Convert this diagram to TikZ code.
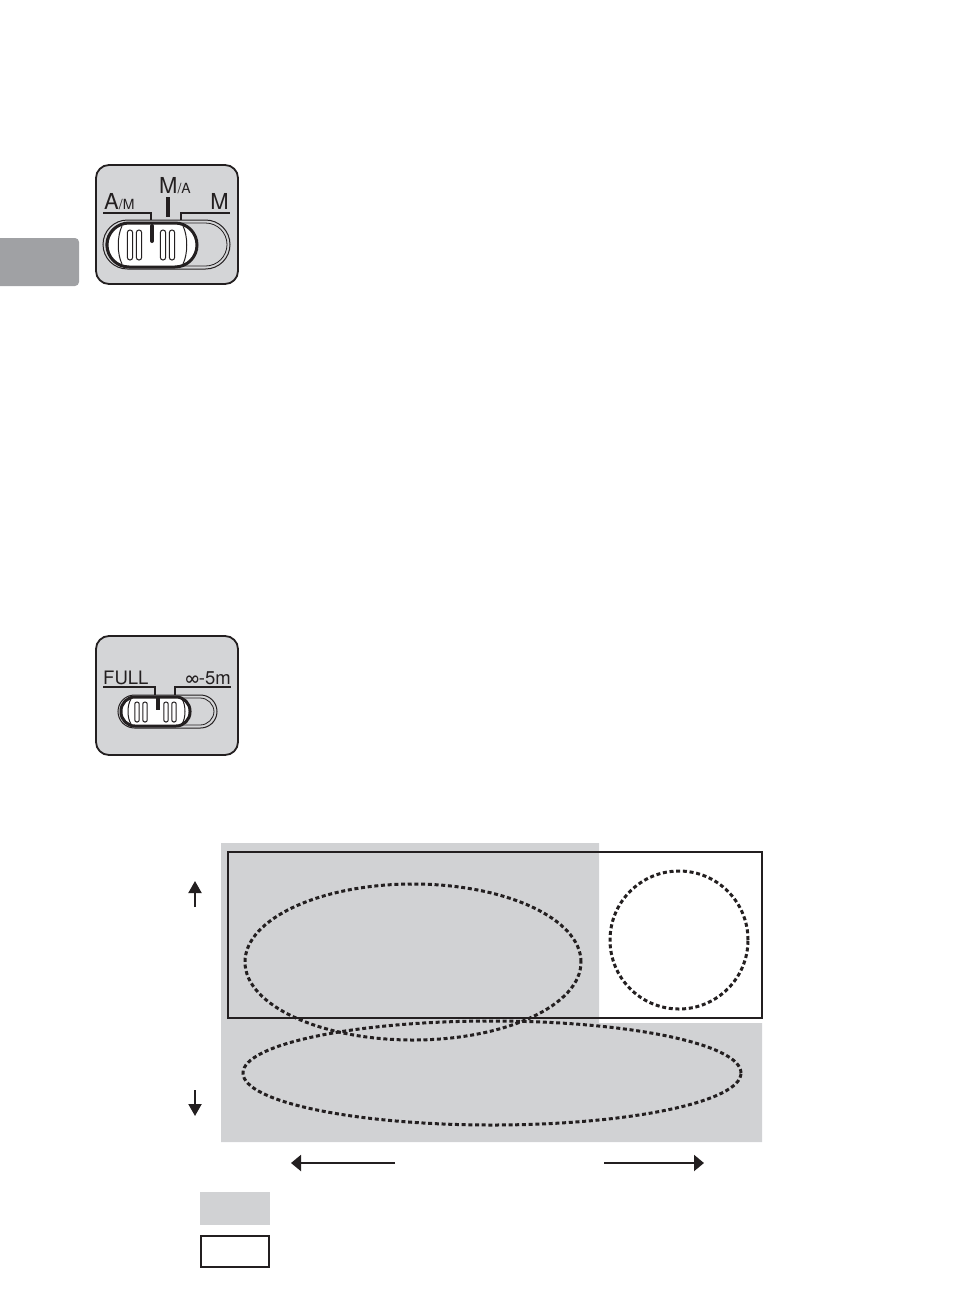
\documentclass[tikz,border=0pt]{standalone}
\usepackage{fontspec}
\setmainfont{TeX Gyre Heros}
\usetikzlibrary{arrows.meta,positioning}

\definecolor{panelgrey}{RGB}{212,213,215}
\definecolor{tabgrey}{RGB}{160,161,164}
\definecolor{chartgrey}{RGB}{209,210,212}
\definecolor{ink}{RGB}{35,31,32}

\begin{document}
\begin{tikzpicture}[x=1pt,y=-1pt,>={Triangle[length=10pt,width=16pt]},
  panel/.style={draw=ink,line width=1.8pt,fill=panelgrey,rounded corners=13pt},
  slot/.style={draw=ink,line width=1pt,fill=panelgrey},
  slider/.style={draw=ink,line width=3pt,fill=white},
  ridge/.style={draw=ink,line width=1pt},
  label/.style={inner sep=0pt,text=ink},
  marker/.style={draw=ink,line width=1.6pt},
  zone/.style={ink,line width=3pt,dash pattern=on 4pt off 2.7pt},
  pointer/.style={->,draw=ink,line width=2pt}]

  \useasboundingbox (0,0) rectangle (954,1312);

  % side tab
  \fill[tabgrey,rounded corners=4pt] (-10,238) rectangle (79,286);

  % focus mode switch
  \draw[panel] (96,165) rectangle (238,284);
  \node[label,anchor=base west,font=\fontsize{22}{22}\selectfont] (am) at (104,209)
    {A{\fontsize{14}{14}\selectfont/M}};
  \node[label,anchor=base,font=\fontsize{22}{22}\selectfont] (ma) at (175,193)
    {M{\fontsize{14}{14}\selectfont/A}};
  \node[label,anchor=base east,font=\fontsize{22}{22}\selectfont] (m) at (229,209) {M};
  \draw[marker] (103,213) -- (151,213) -- (151,220);
  \draw[marker] (181,220) -- (181,213) -- (230,213);
  \draw[ink,line width=4pt] (168,197) -- (168,217);

  \draw[slot,rounded corners=24.5pt] (103,220) rectangle (230,269);
  \draw[ink,line width=0.8pt,rounded corners=21.5pt] (106,223) rectangle (227,266);
  \draw[slider,rounded corners=22pt] (107,223) rectangle (197,267);
  \draw[ridge] (122,226) .. controls (117,236) and (117,254) .. (122,264);
  \draw[ridge] (183,226) .. controls (188,236) and (188,254) .. (183,264);
  \foreach \x in {130,139,163,172}
    \draw[ridge,rounded corners=2.5pt] (\x-2.6,230) rectangle (\x+2.6,260);
  \draw[ink,line width=4pt,line cap=round] (152,226) -- (152,241);

  % limit switch
  \draw[panel] (96,636) rectangle (238,755);
  \node[label,anchor=base west,font=\fontsize{18.5}{18.5}\selectfont] (full) at (103,684) {FULL};
  \node[label,anchor=base east,font=\fontsize{18.5}{18.5}\selectfont] (inf) at (231,684) {∞-5m};
  \draw[marker] (103,687) -- (155,687) -- (155,695);
  \draw[marker] (175,695) -- (175,687) -- (231,687);

  \draw[slot,rounded corners=16.5pt] (118,695) rectangle (217,728);
  \draw[ink,line width=0.8pt,rounded corners=14pt] (121,698) rectangle (214,725);
  \draw[slider,rounded corners=14pt] (121,697) rectangle (190,726);
  \draw[ridge] (131,699) .. controls (127,705) and (127,718) .. (131,724);
  \draw[ridge] (182,699) .. controls (186,705) and (186,718) .. (182,724);
  \foreach \x in {137,145,166,174}
    \draw[ridge,rounded corners=2pt] (\x-2.2,702) rectangle (\x+2.2,722);
  \draw[ink,line width=4pt] (158,697) -- (158,710);

  % coverage chart
  \fill[chartgrey] (221,843) -- (599,843) -- (599,1023) -- (762,1023)
    -- (762,1142) -- (221,1142) -- cycle;
  \draw[ink,line width=2pt] (228,852) rectangle (762,1018);
  \draw[zone] (413,962) ellipse [x radius=168pt,y radius=78pt];
  \draw[zone] (679,940) ellipse [x radius=69pt,y radius=69pt];
  \draw[zone] (492,1073) ellipse [x radius=249pt,y radius=52pt];

  \coordinate (up0) at (195,907);
  \coordinate (up1) at (195,881);
  \coordinate (dn0) at (195,1090);
  \coordinate (dn1) at (195,1116);
  \coordinate (lt0) at (395,1163);
  \coordinate (lt1) at (291,1163);
  \coordinate (rt0) at (604,1163);
  \coordinate (rt1) at (704,1163);
  \draw[pointer,>={Triangle[length=12pt,width=13pt]}] (up0) -- (up1);
  \draw[pointer,>={Triangle[length=12pt,width=13pt]}] (dn0) -- (dn1);
  \draw[pointer] (lt0) -- (lt1);
  \draw[pointer] (rt0) -- (rt1);

  % legend
  \fill[chartgrey] (200,1192) rectangle (270,1225);
  \draw[ink,line width=2pt] (201,1236) rectangle (269,1267);

\end{tikzpicture}
\end{document}
